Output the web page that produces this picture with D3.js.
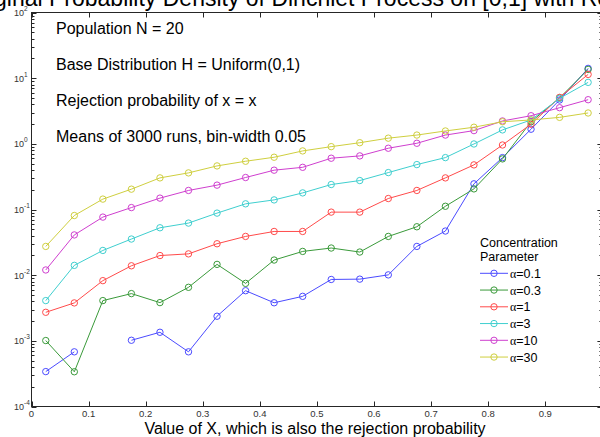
<!DOCTYPE html>
<html><head><meta charset="utf-8">
<script src="https://cdn.jsdelivr.net/npm/d3@7"></script>
<style>
body{margin:0;background:#fff}
svg{display:block}
text{font-family:Arial,"Liberation Sans",sans-serif}
</style>
</head><body>
<svg id="c" width="600" height="437"></svg>
<script>
// ---------- data ----------
const binCenters = [0.025,0.075,0.125,0.175,0.225,0.275,0.325,0.375,0.425,0.475,
                    0.525,0.575,0.625,0.675,0.725,0.775,0.825,0.875,0.925,0.975];
const alphaLabels = ["0.1","0.3","1","3","10","30"];
const densAlpha01 = [0.00034,0.00068,null,0.00102,0.00135,0.00068,0.00237,0.0058,0.0038,0.00476,
                     0.0086,0.0087,0.0101,0.0274,0.047,0.246,0.617,1.67,4.65,14.1];
const densAlpha03 = [0.00101,0.000338,0.0041,0.00524,0.00382,0.00653,0.0146,0.0075,0.017,0.023,
                     0.0259,0.0225,0.0389,0.0546,0.112,0.206,0.59,2.17,5.0,13.6];
const densAlpha1  = [0.00272,0.00378,0.00825,0.0139,0.0199,0.0211,0.0301,0.0389,0.0463,0.0463,
                     0.0912,0.0912,0.147,0.195,0.303,0.478,0.96,1.99,5.1,11.4];
const densAlpha3  = [0.0041,0.0141,0.0238,0.0355,0.0527,0.0621,0.0881,0.122,0.140,0.179,
                     0.24,0.276,0.365,0.483,0.617,0.995,1.63,2.31,4.93,8.63];
const densAlpha10 = [0.012,0.041,0.0766,0.107,0.149,0.195,0.235,0.307,0.397,0.439,
                     0.604,0.655,0.857,1.02,1.36,1.59,2.23,2.68,3.55,4.7];
const densAlpha30 = [0.0274,0.081,0.144,0.204,0.303,0.361,0.461,0.543,0.625,0.78,
                     0.906,1.04,1.22,1.36,1.57,1.79,2.17,2.31,2.53,2.95];
const xTickValues = [0,0.1,0.2,0.3,0.4,0.5,0.6,0.7,0.8,0.9,1];
const xTickLabels = ["0","0.1","0.2","0.3","0.4","0.5","0.6","0.7","0.8","0.9",""];
const yDecadeExponents = [-4,-3,-2,-1,0,1,2];
const annotations = ["Population N = 20","Base Distribution H = Uniform(0,1)",
                     "Rejection probability of x = x","Means of 3000 runs, bin-width 0.05"];
const titleText = "Original Probability Density of Dirichlet Process on [0,1] with Rejection";
const xLabelText = "Value of X, which is also the rejection probability";
const legendTitle = ["Concentration","Parameter"];

// ---------- styles ----------
const colors = ["#4b4bff","#3a9a3a","#ff4b4b","#3fcfcf","#cf3fcf","#cfcf3f"];
const allSeries = [densAlpha01,densAlpha03,densAlpha1,densAlpha3,densAlpha10,densAlpha30];

const svg = d3.select("#c");
const x = d3.scaleLinear().domain([0,1]).range([31.5,602.4]);
const y = d3.scaleLog().domain([1e-4,1e2]).range([406.5,12.5]);
const axisCol = "#262626";

// title (clipped at top)
const title = svg.append("text").attr("y",6).attr("font-size",23).attr("fill","#000").text(titleText);
const oriW = title.node().getSubStringLength(0,3);
title.attr("x",-oriW-6);

// frame
svg.append("rect").attr("x",x(0)).attr("y",y(1e2))
  .attr("width",x(1)-x(0)).attr("height",y(1e-4)-y(1e2))
  .attr("fill","none").attr("stroke",axisCol).attr("stroke-width",1);

// x ticks
const gx = svg.append("g");
xTickValues.forEach((t,i)=>{
  const px = Math.round(x(t))+0.5;
  gx.append("line").attr("x1",px).attr("x2",px).attr("y1",y(1e-4)).attr("y2",y(1e-4)-5).attr("stroke",axisCol);
  gx.append("line").attr("x1",px).attr("x2",px).attr("y1",y(1e2)).attr("y2",y(1e2)+5).attr("stroke",axisCol);
  gx.append("text").attr("x",x(t)).attr("y",417).attr("text-anchor","middle")
    .attr("font-size",9.5).attr("fill","#333").text(xTickLabels[i]);
});

// y ticks
const gy = svg.append("g");
yDecadeExponents.forEach(e=>{
  const v = Math.pow(10,e);
  const py = Math.round(y(v))+0.5;
  gy.append("line").attr("x1",x(0)).attr("x2",x(0)+5).attr("y1",py).attr("y2",py).attr("stroke",axisCol);
  gy.append("line").attr("x1",x(1)).attr("x2",x(1)-5).attr("y1",py).attr("y2",py).attr("stroke",axisCol);
  const t = gy.append("text").attr("x",14).attr("y",y(v)+3.5).attr("font-size",9).attr("fill","#333");
  t.append("tspan").text("10");
  t.append("tspan").attr("font-size",6.5).attr("dy",-5).text(String(e));
  if(e<2){
    for(let m=2;m<=9;m++){
      const mp = Math.round(y(m*v))+0.5;
      gy.append("line").attr("x1",x(0)).attr("x2",x(0)+3).attr("y1",mp).attr("y2",mp).attr("stroke",axisCol);
      gy.append("line").attr("x1",x(1)).attr("x2",x(1)-3).attr("y1",mp).attr("y2",mp).attr("stroke",axisCol);
    }
  }
});

// series
const line = d3.line().defined(d=>d.v!=null && d.v>0).x(d=>x(d.x)).y(d=>y(d.v));
allSeries.forEach((vals,si)=>{
  const pts = binCenters.map((c,i)=>({x:c,v:vals[i]}));
  const g = svg.append("g");
  g.append("path").datum(pts).attr("d",line).attr("fill","none")
    .attr("stroke",colors[si]).attr("stroke-width",1);
  g.selectAll("circle").data(pts.filter(d=>d.v!=null && d.v>0)).join("circle")
    .attr("cx",d=>x(d.x)).attr("cy",d=>y(d.v)).attr("r",3.2)
    .attr("fill","none").attr("stroke",colors[si]).attr("stroke-width",1);
});

// annotations
annotations.forEach((a,i)=>{
  svg.append("text").attr("x",56).attr("y",34+36*i).attr("font-size",16).attr("fill","#000").text(a);
});

// x label
svg.append("text").attr("x",315).attr("y",434).attr("text-anchor","middle")
  .attr("font-size",16).attr("fill","#000").text(xLabelText);

// legend
const lg = svg.append("g");
legendTitle.forEach((t,i)=>{
  lg.append("text").attr("x",480).attr("y",246.7+14.6*i).attr("font-size",12.5).attr("fill","#000").text(t);
});
alphaLabels.forEach((a,i)=>{
  const cy = 273.3 + 16.75*i;
  lg.append("line").attr("x1",480).attr("x2",508).attr("y1",cy).attr("y2",cy).attr("stroke",colors[i]);
  lg.append("circle").attr("cx",494).attr("cy",cy).attr("r",3.2).attr("fill","none").attr("stroke",colors[i]);
  const t = lg.append("text").attr("x",510).attr("y",cy+4.5).attr("font-size",12.5).attr("fill","#000");
  t.append("tspan").attr("font-family","'Liberation Serif','DejaVu Serif',serif").attr("font-size",12).text("α");
  t.append("tspan").text("="+a);
});
</script>
</body></html>
